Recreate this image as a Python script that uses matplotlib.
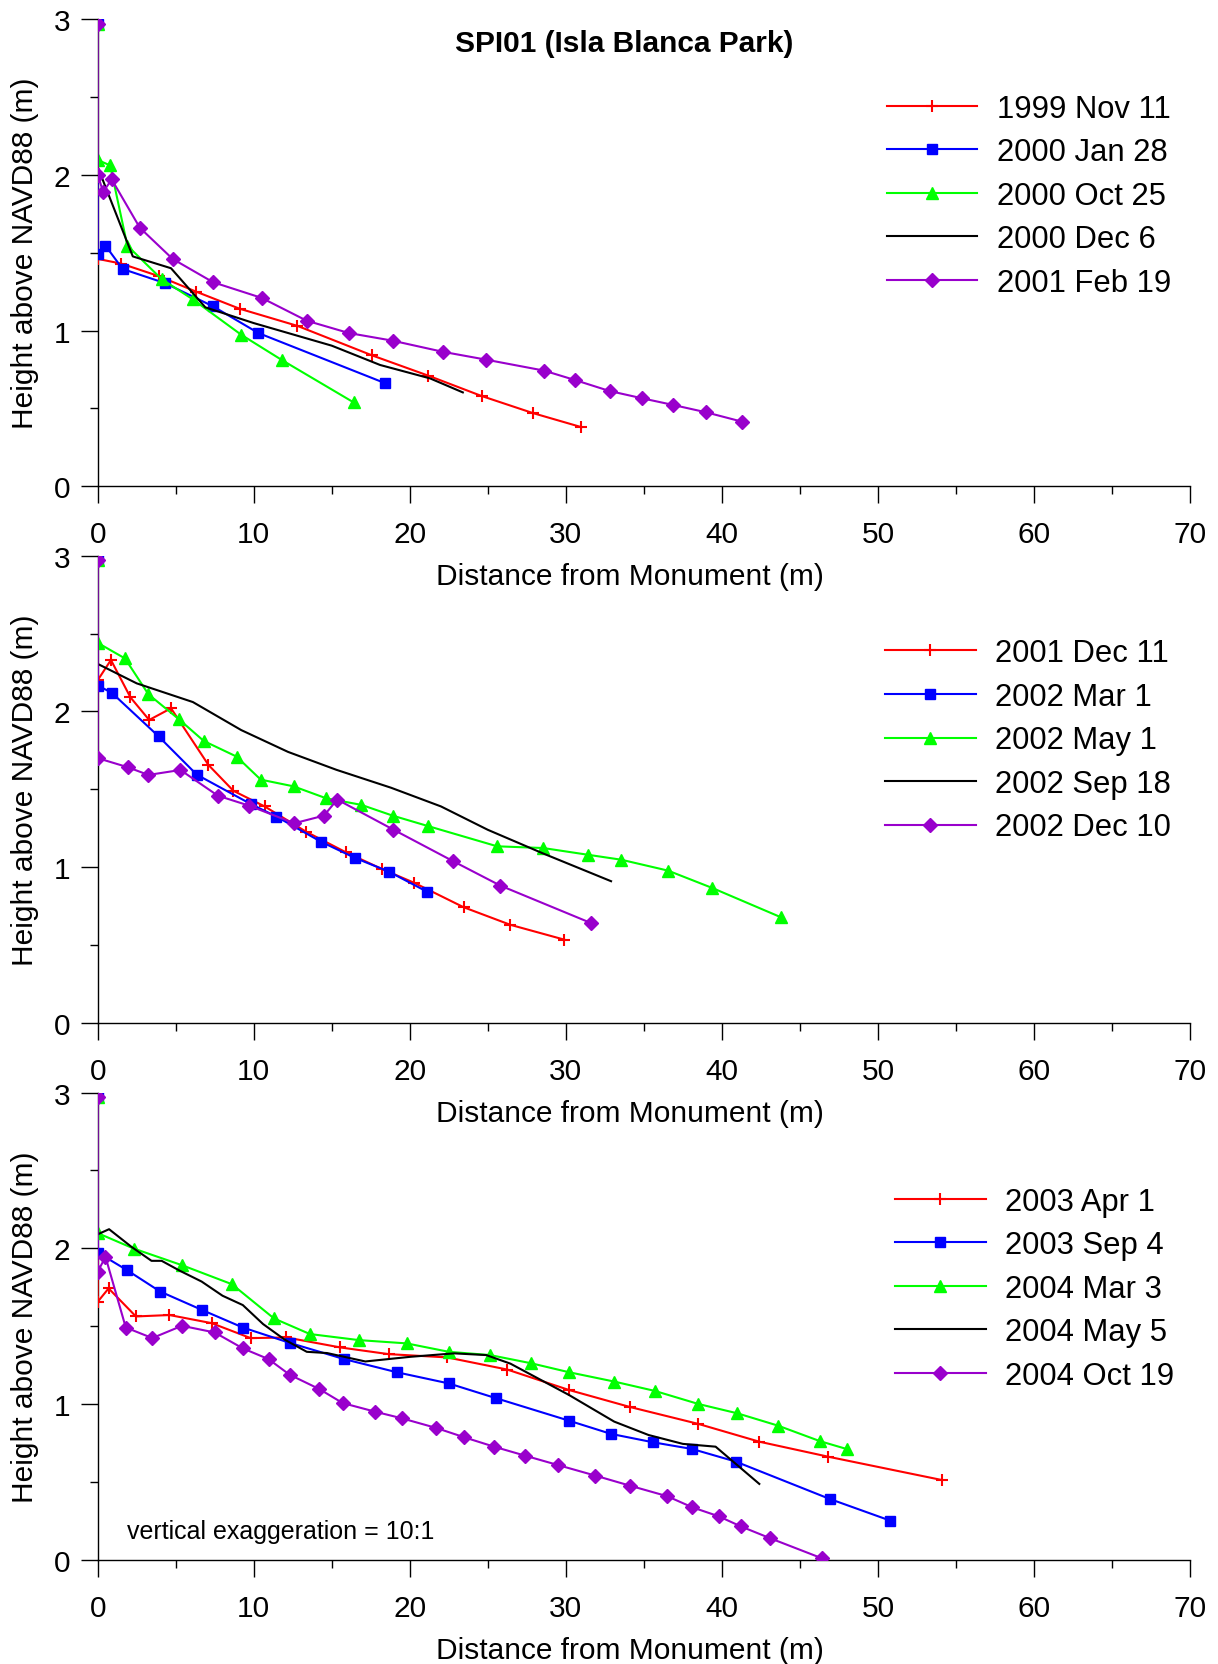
import matplotlib
matplotlib.use("Agg")
import matplotlib.pyplot as plt
from matplotlib.ticker import MultipleLocator

plt.rcParams["font.family"] = ["Liberation Sans", "DejaVu Sans"]

# ---- panel 1 ----
labels_1 = ["1999 Nov 11", "2000 Jan 28", "2000 Oct 25", "2000 Dec 6", "2001 Feb 19"]
x_1999nov11 = [0, 0, 1.5, 3.9, 6.3, 9.1, 12.8, 17.6, 21.2, 24.6, 27.9, 31.0]
y_1999nov11 = [2.97, 1.46, 1.43, 1.35, 1.25, 1.14, 1.03, 0.84, 0.71, 0.58, 0.47, 0.38]
x_2000jan28 = [0, 0, 0.5, 1.6, 4.3, 7.4, 10.3, 18.4]
y_2000jan28 = [2.97, 1.49, 1.545, 1.395, 1.305, 1.155, 0.984, 0.663]
x_2000oct25 = [0, 0, 0.8, 1.9, 4.1, 6.1, 9.2, 11.8, 16.4]
y_2000oct25 = [2.97, 2.095, 2.06, 1.545, 1.33, 1.20, 0.973, 0.811, 0.539]
x_2000dec6 = [0, 0, 2.25, 4.7, 6.9, 10.0, 15.0, 18.1, 21.3, 23.4]
y_2000dec6 = [2.97, 2.05, 1.476, 1.40, 1.149, 1.048, 0.903, 0.779, 0.693, 0.603]
x_2001feb19 = [0, 0, 0.35, 0.9, 2.7, 4.8, 7.4, 10.5, 13.4, 16.1, 18.9, 22.1, 24.9,
               28.6, 30.6, 32.8, 34.9, 36.9, 39.0, 41.3]
y_2001feb19 = [2.97, 2.0, 1.89, 1.97, 1.66, 1.46, 1.31, 1.21, 1.063, 0.984, 0.935, 0.864,
               0.813, 0.743, 0.682, 0.612, 0.565, 0.522, 0.475, 0.415]

# ---- panel 2 ----
labels_2 = ["2001 Dec 11", "2002 Mar 1", "2002 May 1", "2002 Sep 18", "2002 Dec 10"]
x_2001dec11 = [0, 0, 0.85, 2.1, 3.3, 4.7, 7.1, 8.7, 10.7, 13.35, 15.9, 18.2, 20.3, 23.45,
               26.45, 29.9]
y_2001dec11 = [2.97, 2.20, 2.33, 2.09, 1.945, 2.02, 1.656, 1.49, 1.39, 1.228, 1.096, 0.989,
               0.899, 0.743, 0.63, 0.535]
x_2002mar1 = [0, 0, 0.9, 3.9, 6.35, 9.8, 11.45, 14.3, 16.5, 18.65, 21.1]
y_2002mar1 = [2.97, 2.166, 2.12, 1.84, 1.594, 1.406, 1.325, 1.164, 1.059, 0.972, 0.843]
x_2002may1 = [0, 0, 1.75, 3.25, 5.2, 6.8, 8.9, 10.45, 12.55, 14.65, 16.9, 18.9, 21.2,
              25.6, 28.55, 31.4, 33.55, 36.55, 39.4, 43.8]
y_2002may1 = [2.97, 2.44, 2.34, 2.11, 1.95, 1.81, 1.71, 1.562, 1.519, 1.442, 1.40, 1.331,
              1.263, 1.134, 1.123, 1.08, 1.048, 0.978, 0.866, 0.678]
x_2002sep18 = [0, 0, 2.5, 6.1, 9.2, 12.2, 15.3, 18.8, 22.0, 25.0, 28.5, 32.9]
y_2002sep18 = [2.97, 2.305, 2.18, 2.06, 1.88, 1.74, 1.625, 1.51, 1.39, 1.24, 1.09, 0.91]
x_2002dec10 = [0, 0, 1.95, 3.25, 5.3, 7.7, 9.7, 12.6, 14.5, 15.35, 18.95, 22.75, 25.8, 31.6]
y_2002dec10 = [2.97, 1.70, 1.641, 1.592, 1.624, 1.459, 1.395, 1.282, 1.331, 1.434, 1.241,
               1.04, 0.882, 0.642]

# ---- panel 3 ----
labels_3 = ["2003 Apr 1", "2003 Sep 4", "2004 Mar 3", "2004 May 5", "2004 Oct 19"]
x_2003apr1 = [0, 0, 0.7, 2.45, 4.6, 7.3, 9.8, 12.1, 15.55, 18.65, 22.4, 26.25, 30.2, 34.1,
              38.5, 42.4, 46.8, 54.1]
y_2003apr1 = [2.97, 1.657, 1.743, 1.563, 1.572, 1.52, 1.424, 1.428, 1.364, 1.321, 1.30,
              1.222, 1.091, 0.982, 0.873, 0.759, 0.663, 0.513]
x_2003sep4 = [0, 0, 1.85, 4.0, 6.7, 9.3, 12.35, 15.8, 19.2, 22.5, 25.5, 30.2, 32.9, 35.6,
              38.1, 40.9, 46.9, 50.8]
y_2003sep4 = [2.97, 1.973, 1.862, 1.723, 1.604, 1.492, 1.392, 1.289, 1.204, 1.133, 1.039,
              0.894, 0.809, 0.755, 0.712, 0.631, 0.392, 0.252]
x_2004mar3 = [0, 0, 2.3, 5.4, 8.6, 11.3, 13.6, 16.75, 19.8, 22.5, 25.15, 27.8, 30.2, 33.1,
              35.7, 38.5, 41.0, 43.6, 46.3, 48.0]
y_2004mar3 = [2.97, 2.098, 1.999, 1.892, 1.77, 1.55, 1.45, 1.411, 1.39, 1.336, 1.315,
              1.262, 1.205, 1.145, 1.085, 1.001, 0.941, 0.862, 0.762, 0.712]
x_2004may5 = [0, 0, 0.73, 2.16, 3.45, 4.1, 5.27, 6.66, 8.0, 9.3, 10.6, 12.0, 13.4, 14.7,
              17.15, 20.05, 22.85, 24.9, 26.45, 30.2, 33.1, 35.3, 37.5, 39.6, 42.4]
y_2004may5 = [2.97, 2.09, 2.123, 2.01, 1.92, 1.92, 1.856, 1.787, 1.696, 1.636, 1.514, 1.413,
              1.336, 1.328, 1.274, 1.304, 1.326, 1.315, 1.26, 1.059, 0.888, 0.802, 0.745,
              0.727, 0.488]
x_2004oct19 = [0, 0, 0.5, 1.8, 3.5, 5.4, 7.5, 9.3, 10.95, 12.3, 14.2, 15.7, 17.8, 19.5,
               21.7, 23.5, 25.4, 27.4, 29.5, 31.9, 34.1, 36.5, 38.1, 39.8, 41.2, 43.1, 46.4]
y_2004oct19 = [2.97, 1.849, 1.946, 1.492, 1.424, 1.503, 1.46, 1.358, 1.289, 1.189, 1.097,
               1.007, 0.951, 0.909, 0.847, 0.787, 0.727, 0.669, 0.609, 0.541, 0.477, 0.409,
               0.338, 0.28, 0.216, 0.139, 0.011]

colors = ["#ff0000", "#0000ff", "#00ff00", "#000000", "#9900cc"]
markers = ["+", "s", "^", None, "D"]
msizes = [8.5, 7.5, 8, 0, 7.5]

panels = [
    (labels_1, [(x_1999nov11, y_1999nov11), (x_2000jan28, y_2000jan28), (x_2000oct25, y_2000oct25),
                (x_2000dec6, y_2000dec6), (x_2001feb19, y_2001feb19)], (0.7223, 0.840)),
    (labels_2, [(x_2001dec11, y_2001dec11), (x_2002mar1, y_2002mar1), (x_2002may1, y_2002may1),
                (x_2002sep18, y_2002sep18), (x_2002dec10, y_2002dec10)], (0.7208, 0.823)),
    (labels_3, [(x_2003apr1, y_2003apr1), (x_2003sep4, y_2003sep4), (x_2004mar3, y_2004mar3),
                (x_2004may5, y_2004may5), (x_2004oct19, y_2004oct19)], (0.730, 0.799)),
]
bottoms = [0.7073, 0.385, 0.0625]

fig = plt.figure(figsize=(12.18, 16.65), dpi=100)
for k, (labels, series, leg_pos) in enumerate(panels):
    ax = fig.add_axes([0.0802, bottoms[k], 0.8968, 0.2807])
    ax.patch.set_visible(False)
    for (xs, ys), lab, c, m, ms in zip(series, labels, colors, markers, msizes):
        ax.plot(xs, ys, color=c, lw=1.5, marker=m, ms=ms, mew=1.5 if m == "+" else 1,
                label=lab)
    ax.set_xlim(0, 70)
    ax.set_ylim(0, 3)
    ax.spines["top"].set_visible(False)
    ax.spines["right"].set_visible(False)
    for s in ("left", "bottom"):
        ax.spines[s].set_linewidth(1.0)
        ax.spines[s].set_zorder(0)
    ax.xaxis.set_major_locator(MultipleLocator(10))
    ax.xaxis.set_minor_locator(MultipleLocator(5))
    ax.yaxis.set_major_locator(MultipleLocator(1))
    ax.yaxis.set_minor_locator(MultipleLocator(0.5))
    ax.tick_params(which="major", direction="out", length=12.5, width=1.0, labelsize=21.5)
    ax.tick_params(which="minor", direction="out", length=6, width=1.0)
    ax.tick_params(axis="x", which="major", pad=12)
    ax.tick_params(axis="y", which="major", pad=7)

    ax.set_xlabel("Distance from Monument (m)", fontsize=21.5, va="baseline")
    ax.xaxis.set_label_coords(0.487, -0.209)
    ax.set_ylabel("Height above NAVD88 (m)", fontsize=21.5, va="baseline")
    ax.yaxis.set_label_coords(-0.059, 0.5)

    ax.legend(loc="upper left", bbox_to_anchor=leg_pos, frameon=False, fontsize=22.3,
              handlelength=2.93, handletextpad=0.63, labelspacing=0.436,
              borderpad=0, borderaxespad=0, numpoints=1)

    if k == 0:
        ax.text(0.482, 0.932, "SPI01 (Isla Blanca Park)", transform=ax.transAxes,
                fontsize=21.5, fontweight="bold", ha="center", va="baseline")
    if k == 2:
        ax.text(1.86, 0.139, "vertical exaggeration = 10:1", fontsize=18,
                ha="left", va="baseline")

fig.savefig("out.png", dpi=100)
